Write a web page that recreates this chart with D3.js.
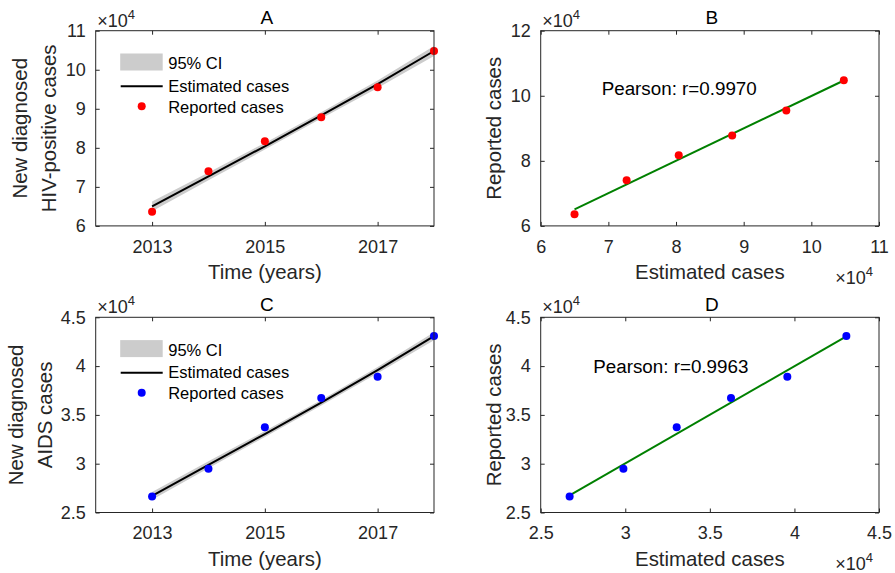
<!DOCTYPE html>
<html>
<head>
<meta charset="utf-8">
<script src="https://cdn.jsdelivr.net/npm/d3@7.9.0/dist/d3.min.js"></script>
<style>
  body { margin: 0; background: #fff; }
  svg { display: block; font-family: "Liberation Sans", Arial, sans-serif; }
  .tick text { fill: #262626; }
  .tick line { stroke: #262626; }
</style>
</head>
<body>
<svg id="chart" width="895" height="573"></svg>
<script>
// ---- data ----
const years = [2013, 2014, 2015, 2016, 2017, 2018];

const hivReported  = [63600, 74000, 81700, 87800, 95500, 104800];
const hivEstimated = [65000, 72700, 80400, 88300, 96300, 104800];
const hivLower     = [63750, 71700, 79550, 87500, 95350, 103550];
const hivUpper     = [66250, 73700, 81250, 89100, 97250, 106050];

const aidsReported  = [26640, 29470, 33740, 36740, 38920, 43090];
const aidsEstimated = [26710, 29890, 33040, 36250, 39580, 43070];
const aidsLower     = [26310, 29540, 32740, 35970, 39260, 42660];
const aidsUpper     = [27110, 30240, 33340, 36530, 39900, 43480];

const yearTicks = [2013, 2015, 2017];
const hivTicks = [60000, 70000, 80000, 90000, 100000, 110000];
const hivScatterYTicks = [60000, 80000, 100000, 120000];
const aidsTicks = [25000, 30000, 35000, 40000, 45000];

const pearsonHiv = 'Pearson: r=0.9970';
const pearsonAids = 'Pearson: r=0.9963';

// ---- layout ----
const W = 338.3, H = 195.2;
const svg = d3.select('#chart');
const tickFmt = d => String(d / 1e4);

function box(g) {
    g.append('rect')
        .attr('width', W).attr('height', H)
        .attr('fill', 'none').attr('stroke', '#262626').attr('stroke-width', 1);
}

// MATLAB style axes: ticks inside, mirrored on top/right
function axes(g, x, y, xTicks, yTicks, xFmt) {
    const clean = s => s.select('.domain').remove();
    g.append('g').attr('transform', `translate(0,${H})`)
        .call(d3.axisBottom(x).tickValues(xTicks).tickFormat(xFmt)
            .tickSizeInner(-4).tickSizeOuter(0).tickPadding(14))
        .call(clean)
        .selectAll('text').attr('font-size', 18).attr('font-family', null);
    g.append('g')
        .call(d3.axisTop(x).tickValues(xTicks).tickFormat('')
            .tickSizeInner(-4).tickSizeOuter(0))
        .call(clean);
    g.append('g')
        .call(d3.axisLeft(y).tickValues(yTicks).tickFormat(tickFmt)
            .tickSizeInner(-4).tickSizeOuter(0).tickPadding(10))
        .call(clean)
        .selectAll('text').attr('font-size', 18).attr('font-family', null);
    g.append('g').attr('transform', `translate(${W},0)`)
        .call(d3.axisRight(y).tickValues(yTicks).tickFormat('')
            .tickSizeInner(-4).tickSizeOuter(0))
        .call(clean);
    g.selectAll('.tick line').attr('stroke', '#262626');
    box(g);
}

function times1e4(g, x, yb) {
    const t = g.append('text').attr('x', x).attr('y', yb)
        .attr('font-size', 18).attr('fill', '#262626');
    t.append('tspan').text('\u00d710');
    t.append('tspan').attr('font-size', 13).attr('dy', -8).text('4');
}

function title(g, s) {
    g.append('text').attr('x', W / 2 + 2).attr('y', -6.5)
        .attr('text-anchor', 'middle').attr('font-size', 19).attr('fill', '#000')
        .text(s);
}

function xLabel(g, s) {
    g.append('text').attr('x', W / 2).attr('y', H + 53.5)
        .attr('text-anchor', 'middle').attr('font-size', 20.4).attr('fill', '#262626')
        .text(s);
}

function yLabel(g, lines, xs) {
    lines.forEach((s, i) => {
        g.append('text')
            .attr('transform', `translate(${xs[i]},${H / 2}) rotate(-90)`)
            .attr('text-anchor', 'middle').attr('font-size', 20.4).attr('fill', '#262626')
            .text(s);
    });
}

function timePanel(left, top, opts) {
    const g = svg.append('g').attr('transform', `translate(${left},${top})`);
    const x = d3.scaleLinear().domain([2012, 2018]).range([0, W]);
    const y = d3.scaleLinear().domain(opts.yDomain).range([H, 0]);

    const rows = years.map((yr, i) => ({
        yr, rep: opts.reported[i], est: opts.estimated[i], lo: opts.lower[i], hi: opts.upper[i]
    }));

    g.append('path').datum(rows)
        .attr('fill', '#cccccc')
        .attr('d', d3.area().x(d => x(d.yr)).y0(d => y(d.lo)).y1(d => y(d.hi)));
    g.append('path').datum(rows)
        .attr('fill', 'none').attr('stroke', '#000').attr('stroke-width', 2)
        .attr('d', d3.line().x(d => x(d.yr)).y(d => y(d.est)));
    g.selectAll('circle.rep').data(rows).join('circle')
        .attr('class', 'rep')
        .attr('cx', d => x(d.yr)).attr('cy', d => y(d.rep)).attr('r', 4)
        .attr('fill', opts.color);

    axes(g, x, y, yearTicks, opts.yTicks, d3.format('d'));

    // legend
    const lg = g.append('g');
    lg.append('rect').attr('x', 24.5).attr('y', 22.8).attr('width', 42.5).attr('height', 17)
        .attr('fill', '#cccccc');
    lg.append('line').attr('x1', 25).attr('x2', 67).attr('y1', 55.5).attr('y2', 55.5)
        .attr('stroke', '#000').attr('stroke-width', 2);
    lg.append('circle').attr('cx', 46).attr('cy', 75.5).attr('r', 4).attr('fill', opts.color);
    ['95% CI', 'Estimated cases', 'Reported cases'].forEach((s, i) => {
        lg.append('text').attr('x', 72.5).attr('y', [38.3, 61, 82][i])
            .attr('font-size', 16.5).attr('fill', '#000').text(s);
    });

    times1e4(g, 1.5, -4);
    title(g, opts.title);
    xLabel(g, 'Time (years)');
    yLabel(g, opts.yLabel, opts.yLabelX);
}

function scatterPanel(left, top, opts) {
    const g = svg.append('g').attr('transform', `translate(${left},${top})`);
    const x = d3.scaleLinear().domain(opts.xDomain).range([0, W]);
    const y = d3.scaleLinear().domain(opts.yDomain).range([H, 0]);

    // least-squares fit of reported on estimated
    const mx = d3.mean(opts.estimated), my = d3.mean(opts.reported);
    const sxy = d3.sum(opts.estimated, (v, i) => (v - mx) * (opts.reported[i] - my));
    const sxx = d3.sum(opts.estimated, v => (v - mx) * (v - mx));
    const slope = sxy / sxx, icpt = my - slope * mx;
    const ends = d3.extent(opts.estimated);

    g.append('path').datum(ends)
        .attr('fill', 'none').attr('stroke', '#008000').attr('stroke-width', 2)
        .attr('d', d3.line().x(d => x(d)).y(d => y(icpt + slope * d)));
    g.selectAll('circle.rep').data(opts.estimated).join('circle')
        .attr('class', 'rep')
        .attr('cx', d => x(d)).attr('cy', (d, i) => y(opts.reported[i])).attr('r', 4)
        .attr('fill', opts.color);

    axes(g, x, y, opts.xTicks, opts.yTicks, tickFmt);

    g.append('text').attr('x', opts.textPos[0]).attr('y', opts.textPos[1])
        .attr('font-size', 18.8).attr('fill', '#000').text(opts.text);

    times1e4(g, 1.5, -4);
    times1e4(g, 294.5, H + 58);
    title(g, opts.title);
    xLabel(g, 'Estimated cases');
    yLabel(g, ['Reported cases'], [-40]);
}

timePanel(95.7, 30.7, {
    title: 'A', reported: hivReported, estimated: hivEstimated,
    lower: hivLower, upper: hivUpper, color: '#ff0000',
    yDomain: [60000, 110000], yTicks: hivTicks,
    yLabel: ['New diagnosed', 'HIV-positive cases'], yLabelX: [-68.4, -39.7]
});

scatterPanel(540.7, 30.7, {
    title: 'B', reported: hivReported, estimated: hivEstimated, color: '#ff0000',
    xDomain: [60000, 110000], yDomain: [60000, 120000],
    xTicks: hivTicks, yTicks: hivScatterYTicks,
    text: pearsonHiv, textPos: [61, 64.3]
});

timePanel(95.7, 317.3, {
    title: 'C', reported: aidsReported, estimated: aidsEstimated,
    lower: aidsLower, upper: aidsUpper, color: '#0000ff',
    yDomain: [25000, 45000], yTicks: aidsTicks,
    yLabel: ['New diagnosed', 'AIDS cases'], yLabelX: [-72.4, -44]
});

scatterPanel(540.7, 317.3, {
    title: 'D', reported: aidsReported, estimated: aidsEstimated, color: '#0000ff',
    xDomain: [25000, 45000], yDomain: [25000, 45000],
    xTicks: aidsTicks, yTicks: aidsTicks,
    text: pearsonAids, textPos: [52.6, 56]
});
</script>
</body>
</html>
